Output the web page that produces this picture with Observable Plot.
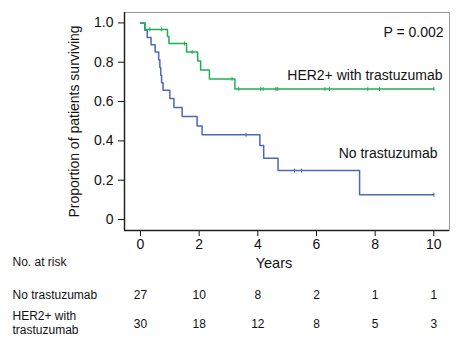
<!DOCTYPE html>
<html>
<head>
<meta charset="utf-8">
<script src="https://cdn.jsdelivr.net/npm/d3@7"></script>
<script src="https://cdn.jsdelivr.net/npm/@observablehq/plot@0.6"></script>
<style>
  body { margin: 0; background: #fff; }
  #chart svg { display: block; }
</style>
</head>
<body>
<div id="chart"></div>
<script>
// ---- Data ----
const groups = ["No trastuzumab", "HER2+ with trastuzumab"];

// No trastuzumab: step times (years) and survival
const noTimes = [0, 0.15, 0.23, 0.36, 0.5, 0.62, 0.66, 0.69, 0.72, 0.77, 1.0, 1.14, 1.42, 1.93, 2.1, 4.07, 4.2, 4.69, 7.47];
const noSurv  = [1, 0.963, 0.926, 0.889, 0.852, 0.812, 0.773, 0.734, 0.695, 0.657, 0.615, 0.57, 0.524, 0.476, 0.431, 0.377, 0.312, 0.249, 0.126];
const noCensor = [3.6, 5.25, 5.49, 10];

// HER2+ with trastuzumab
const herTimes = [0, 0.15, 0.92, 0.97, 1.57, 1.95, 2.05, 2.35, 3.22];
const herSurv  = [1, 0.967, 0.931, 0.895, 0.852, 0.806, 0.76, 0.715, 0.664];
const herCensor = [0.32, 0.72, 1.5, 1.76, 3.12, 3.35, 4.1, 4.18, 4.62, 4.68, 6.29, 6.44, 7.75, 8.15, 10];

// Number at risk table
const riskTimes = [0, 2, 4, 6, 8, 10];
const riskNo  = [27, 10, 8, 2, 1, 1];
const riskHer = [30, 18, 12, 8, 5, 3];

const yTicks = [0, 0.2, 0.4, 0.6, 0.8, 1.0];
const xTicks = [0, 2, 4, 6, 8, 10];
const pLabel = "P = 0.002";

// ---- Build tables ----
const colors = {"No trastuzumab": "#4a69b6", "HER2+ with trastuzumab": "#22ad55"};

function survAt(times, surv, t) {
  let v = surv[0];
  for (let i = 0; i < times.length; i++) if (times[i] <= t) v = surv[i];
  return v;
}
function stepTable(group, times, surv, censor) {
  const rows = times.map((t, i) => ({group, t, s: surv[i]}));
  const end = censor[censor.length - 1];
  rows.push({group, t: end, s: surv[surv.length - 1]});
  return rows;
}
function censorTable(group, times, surv, censor) {
  return censor.map(t => ({group, t, s: survAt(times, surv, t)}));
}
const lineNo = stepTable(groups[0], noTimes, noSurv, noCensor);
const lineHer = stepTable(groups[1], herTimes, herSurv, herCensor);
const censNo = censorTable(groups[0], noTimes, noSurv, noCensor);
const censHer = censorTable(groups[1], herTimes, herSurv, herCensor);

const riskRowNo = riskTimes.map((t, i) => ({t, n: riskNo[i]}));
const riskRowHer = riskTimes.map((t, i) => ({t, n: riskHer[i]}));

const vtick = {
  draw(ctx, size) {
    const r = Math.sqrt(size / Math.PI);
    ctx.moveTo(0, -r);
    ctx.lineTo(0, r);
  }
};

const xDomain = [-0.545, 10.535];
const yDomain = [-0.056, 1.053];
const font = "'Liberation Sans', Arial, Helvetica, sans-serif";
const T = {fill: "#111", lineAnchor: "middle"};

const chart = Plot.plot({
  width: 467,
  height: 346,
  marginLeft: 124,
  marginRight: 18,
  marginTop: 12,
  marginBottom: 116,
  style: {fontFamily: font, fontSize: "14px", color: "#111", background: "#fff"},
  x: {domain: xDomain, ticks: xTicks, tickSize: 6, tickPadding: 3, label: null, tickFormat: d => String(d)},
  y: {domain: yDomain, ticks: yTicks, tickSize: 6, tickPadding: 5, label: null,
      tickFormat: d => d === 0 ? "0" : d.toFixed(1)},
  marks: [
    Plot.frame({stroke: "#9a9a9a", strokeWidth: 1}),
    Plot.ruleX([xDomain[0]], {stroke: "#222", strokeWidth: 1.5}),
    Plot.ruleY([yDomain[0]], {stroke: "#222", strokeWidth: 1.5}),
    Plot.line(lineNo, {x: "t", y: "s", curve: "step-after", stroke: colors[groups[0]], strokeWidth: 1.5}),
    Plot.line(lineHer, {x: "t", y: "s", curve: "step-after", stroke: colors[groups[1]], strokeWidth: 1.5}),
    Plot.dot(censNo, {x: "t", y: "s", symbol: vtick, r: 2, fill: "none", stroke: colors[groups[0]], strokeWidth: 1}),
    Plot.dot(censHer, {x: "t", y: "s", symbol: vtick, r: 2, fill: "none", stroke: colors[groups[1]], strokeWidth: 1}),
    // annotations
    Plot.text([pLabel], {...T, frameAnchor: "top-right", textAnchor: "end", dx: -6, dy: 20, fontSize: 14}),
    Plot.text([groups[1]], {...T, frameAnchor: "top-right", textAnchor: "end", dx: -7, dy: 63, fontSize: 14}),
    Plot.text([groups[0]], {...T, frameAnchor: "top-right", textAnchor: "end", dx: -12, dy: 141, fontSize: 14}),
    // y label
    Plot.text(["Proportion of patients surviving"], {...T, frameAnchor: "left", textAnchor: "middle", rotate: -90, dx: -50, fontSize: 14}),
    // x label
    Plot.text(["Years"], {...T, frameAnchor: "bottom", textAnchor: "middle", dx: -13, dy: 33, fontSize: 14.5}),
    // risk table
    Plot.text(["No. at risk"], {...T, frameAnchor: "bottom-left", textAnchor: "start", dx: -112, dy: 32, fontSize: 12}),
    Plot.text([groups[0]], {...T, frameAnchor: "bottom-left", textAnchor: "start", dx: -112, dy: 65, fontSize: 12}),
    Plot.text(["HER2+ with\ntrastuzumab"], {...T, frameAnchor: "bottom-left", textAnchor: "start", dx: -112, dy: 92, fontSize: 12, lineHeight: 1.2}),
    Plot.text(riskRowNo, {...T, x: "t", text: "n", frameAnchor: "bottom", dy: 65, fontSize: 12}),
    Plot.text(riskRowHer, {...T, x: "t", text: "n", frameAnchor: "bottom", dy: 94, fontSize: 12})
  ]
});
document.getElementById("chart").appendChild(chart);
</script>
</body>
</html>
